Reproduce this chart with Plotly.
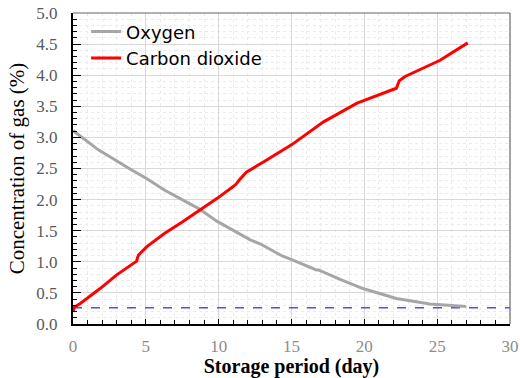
import plotly.graph_objects as go

# Data
days_o2 = [0, 1.74, 4.0, 5.05, 6.3, 8.6, 9.9, 12.2, 12.84, 14.4, 15.06, 16.7, 16.85, 18.3, 19.9, 22.2, 24.5, 27.0]
o2 = [3.11, 2.80, 2.48, 2.34, 2.15, 1.86, 1.65, 1.35, 1.29, 1.09, 1.03, 0.87, 0.87, 0.72, 0.57, 0.41, 0.32, 0.28]

days_co2 = [0, 0.1, 0.5, 1.0, 1.86, 3.0, 4.37, 4.42, 4.5, 5.05, 6.3, 7.5, 8.7, 9.9, 11.0, 11.2,
            11.4, 11.9, 13.1, 14.2, 15.0, 17.2, 19.5, 22.2, 22.3, 22.4, 22.8, 23.8, 25.2, 27.1]
co2 = [0.2, 0.27, 0.33, 0.42, 0.57, 0.79, 1.01, 1.06, 1.11, 1.24, 1.46, 1.64, 1.83, 2.02, 2.21, 2.25,
       2.31, 2.44, 2.61, 2.77, 2.88, 3.25, 3.55, 3.79, 3.86, 3.91, 3.98, 4.09, 4.24, 4.52]

threshold = 0.26
x_range = [0, 30]
y_range = [0, 5]

fig = go.Figure()
fig.add_trace(go.Scatter(x=x_range, y=[threshold, threshold], mode="lines",
                         line=dict(color="#4d4dff", width=1.5, dash="dash"),
                         showlegend=False, hoverinfo="skip"))
fig.add_trace(go.Scatter(x=days_o2, y=o2, mode="lines", name="Oxygen",
                         line=dict(color="#a6a6a6", width=3)))
fig.add_trace(go.Scatter(x=days_co2, y=co2, mode="lines", name="Carbon dioxide",
                         line=dict(color="#ff0000", width=3)))

serif = "Times New Roman, Liberation Serif, serif"

fig.update_layout(
    width=520, height=378,
    margin=dict(l=73, r=10, t=13, b=54),
    font=dict(family=serif, size=17, color="#595959"),
    paper_bgcolor="white", plot_bgcolor="white",
    legend=dict(x=0.03, y=0.999, xanchor="left", yanchor="top",
                font=dict(family="DejaVu Sans", size=18, color="black"),
                bgcolor="rgba(0,0,0,0)", itemwidth=30, tracegroupgap=0),
    xaxis=dict(range=x_range, dtick=5, tick0=0, automargin=False,
               showgrid=True, gridcolor="#d9d9d9", gridwidth=1,
               ticks="inside", ticklen=5, tickcolor="black", tickwidth=1,
               showline=True, linecolor="black", linewidth=2,
               tickfont=dict(family=serif, size=17, color="#8c8c8c"),
               ticklabelstandoff=6,
               minor=dict(dtick=1, showgrid=True, gridcolor="#ebebeb", griddash="dot",
                          ticks="inside", ticklen=4, tickcolor="black"),
               title=dict(text="<b>Storage period (day)</b>",
                          font=dict(family=serif, size=20, color="black"), standoff=10),
               zeroline=False),
    yaxis=dict(range=y_range, dtick=0.5, tick0=0, tickformat=".1f", automargin=False,
               showgrid=True, gridcolor="#d9d9d9", gridwidth=1,
               ticks="inside", ticklen=8, tickcolor="black", tickwidth=1,
               showline=True, linecolor="black", linewidth=2,
               tickfont=dict(family=serif, size=17, color="#595959"),
               ticklabelstandoff=10,
               minor=dict(dtick=0.1, showgrid=True, gridcolor="#ebebeb", griddash="dot",
                          ticks="inside", ticklen=4, tickcolor="black"),
               title=dict(text="Concentration of gas (%)",
                          font=dict(family=serif, size=21, color="black"), standoff=6),
               zeroline=False),
    shapes=[
        dict(type="line", xref="paper", yref="paper", x0=0, x1=1, y0=1, y1=1,
             line=dict(color="#666666", width=1.2)),
        dict(type="line", xref="paper", yref="paper", x0=1, x1=1, y0=0, y1=1,
             line=dict(color="#666666", width=1.2)),
    ],
)

fig.write_html("out.html")
